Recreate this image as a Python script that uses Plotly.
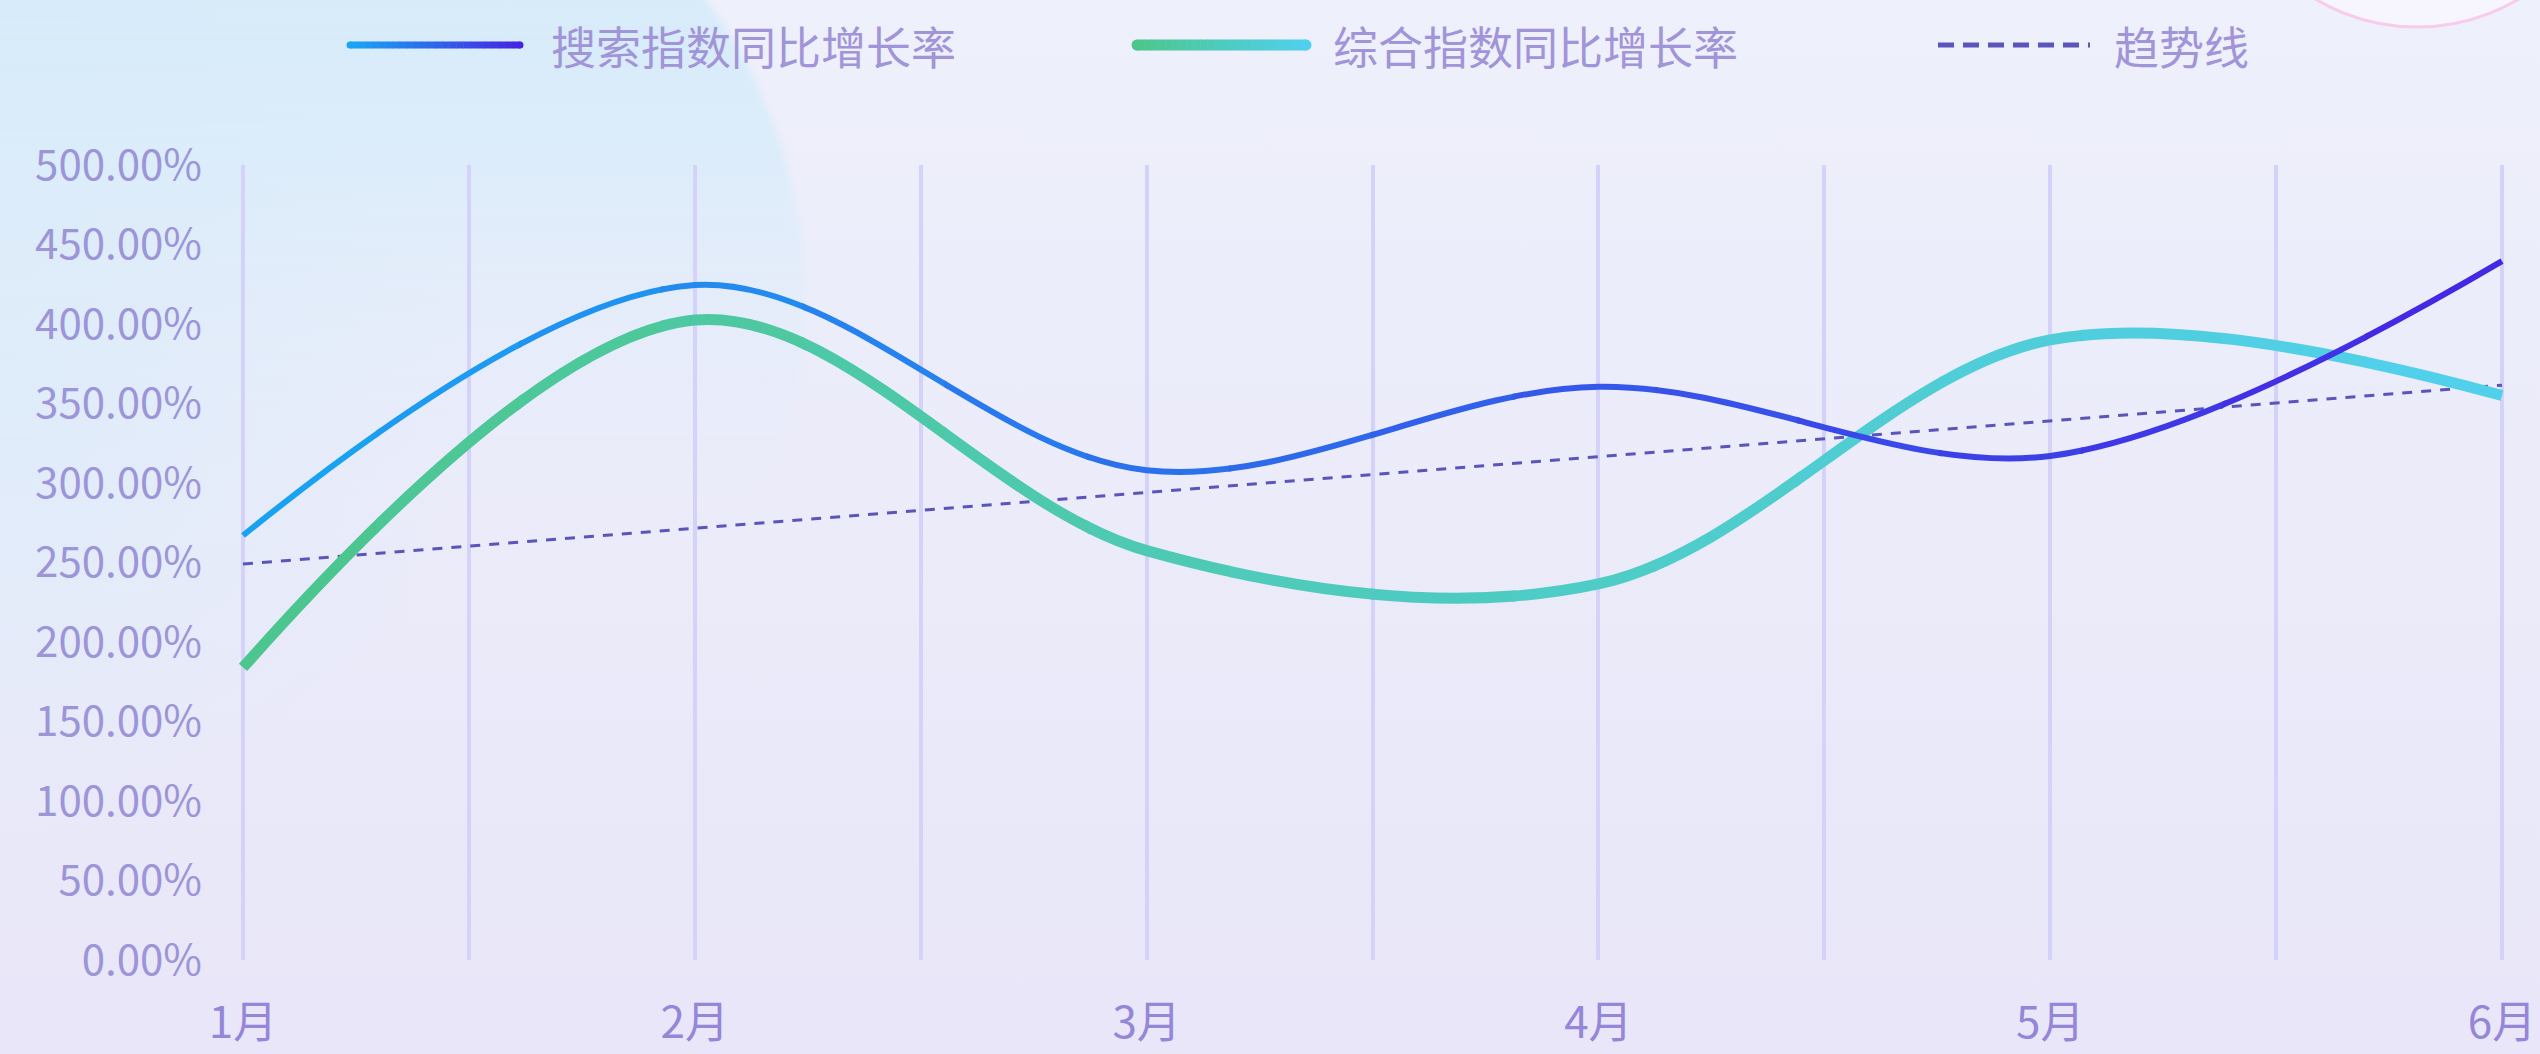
import base64
import plotly.graph_objects as go

# ---- data -------------------------------------------------------------
months = ["1月", "2月", "3月", "4月", "5月", "6月"]
search_growth = [267.0, 424.5, 308.0, 360.5, 317.0, 439.5]      # 搜索指数同比增长率 (%)
composite_growth = [184.0, 402.5, 257.5, 236.5, 390.0, 355.0]   # 综合指数同比增长率 (%)
trend_values = [249.0, 271.5, 294.0, 316.5, 339.0, 361.5]       # 趋势线 (%)
y_tick_values = [0, 50, 100, 150, 200, 250, 300, 350, 400, 450, 500]

series_names = ["搜索指数同比增长率", "综合指数同比增长率", "趋势线"]

# ---- geometry / style -------------------------------------------------
W, H = 2540, 1054
ML, MR, MT, MB = 236, 32, 165, 94
PW, PH = W - ML - MR, H - MT - MB
FIRST_PX, LAST_PX = 243, 2502          # pixel columns of the first / last month
month_pos = list(range(len(months)))
unit = (LAST_PX - FIRST_PX) / (len(months) - 1)
x_range = [-(FIRST_PX - ML) / unit, (len(months) - 1) + (ML + PW - LAST_PX) / unit]

FONT = "Noto Sans CJK SC, Noto Sans, sans-serif"
TEXT_COLOR = "#9d91d8"
GRID_COLOR = "#d4d2fa"

SEARCH_STOPS = ((25, 166, 242), (70, 36, 228))
COMPOSITE_STOPS = ((76, 198, 140), (80, 208, 238))
TREND_COLOR = "#5955bb"


def mix(stops, t):
    t = min(max(t, 0.0), 1.0)
    a, b = stops
    return "rgb({},{},{})".format(*[round(a[i] + (b[i] - a[i]) * t) for i in range(3)])


def px_x(px):
    return (px - ML) / PW


def px_y(py):
    return (MT + PH - py) / PH


fig = go.Figure()

# trend line on the main axes (underneath the gradient curves)
fig.add_trace(go.Scatter(
    x=month_pos, y=trend_values, mode="lines", name=series_names[2],
    line=dict(color=TREND_COLOR, width=3, dash="10px,9px"),
    hoverinfo="skip", showlegend=False,
))

# gradient curves: the plot width is cut into vertical strips, each strip is
# its own x-axis (same scale, narrower domain) so the spline gets clipped and
# coloured piece by piece.
N_STRIPS = 16
overlap = 1.5 / PW
span = x_range[1] - x_range[0]
for k in range(N_STRIPS):
    d0 = max(0.0, k / N_STRIPS - overlap)
    d1 = min(1.0, (k + 1) / N_STRIPS + overlap)
    axis_id = k + 2
    fig.update_layout(**{
        f"xaxis{axis_id}": dict(
            domain=[d0, d1],
            range=[x_range[0] + d0 * span, x_range[0] + d1 * span],
            visible=False, anchor="y", fixedrange=True, automargin=False,
        )
    })
    centre = x_range[0] + (k + 0.5) / N_STRIPS * span
    t = centre / (len(months) - 1)
    fig.add_trace(go.Scatter(
        x=month_pos, y=composite_growth, mode="lines", xaxis=f"x{axis_id}", yaxis="y",
        line=dict(color=mix(COMPOSITE_STOPS, t), width=11, shape="spline",
                  smoothing=1.0, simplify=False),
        name=series_names[1], hoverinfo="skip", showlegend=False,
    ))
    fig.add_trace(go.Scatter(
        x=month_pos, y=search_growth, mode="lines", xaxis=f"x{axis_id}", yaxis="y",
        line=dict(color=mix(SEARCH_STOPS, t), width=6, shape="spline",
                  smoothing=1.0, simplify=False),
        name=series_names[0], hoverinfo="skip", showlegend=False,
    ))

# ---- custom legend ----------------------------------------------------
shapes = []
annotations = []
legend_y = px_y(45)


def gradient_bar(x0, x1, stops, width, pieces=24):
    for i in range(pieces):
        a = x0 + (x1 - x0) * i / pieces
        b = x0 + (x1 - x0) * (i + 1) / pieces + 0.5
        shapes.append(dict(type="line", xref="paper", yref="paper",
                           x0=px_x(a), x1=px_x(b), y0=legend_y, y1=legend_y,
                           line=dict(color=mix(stops, (i + 0.5) / pieces), width=width)))
    r = width / 2
    for px, t in ((x0, 0.0), (x1, 1.0)):
        shapes.append(dict(type="circle", xref="paper", yref="paper",
                           xsizemode="pixel", ysizemode="pixel",
                           xanchor=px_x(px), yanchor=legend_y,
                           x0=-r, x1=r, y0=-r, y1=r,
                           fillcolor=mix(stops, t), line=dict(width=0)))


gradient_bar(350, 520, SEARCH_STOPS, 7)
gradient_bar(1137, 1306, COMPOSITE_STOPS, 11)
shapes.append(dict(type="line", xref="paper", yref="paper",
                   x0=px_x(1938), x1=px_x(2090), y0=legend_y, y1=legend_y,
                   line=dict(color=TREND_COLOR, width=5, dash="16px,9px")))

for name, left in zip(series_names, (549, 1331, 2112)):
    annotations.append(dict(text=name, xref="paper", yref="paper",
                            x=px_x(left), y=legend_y, xanchor="left", yanchor="middle",
                            showarrow=False,
                            font=dict(family=FONT, size=45, color="#a194d8")))

# ---- background artwork ----------------------------------------------
bg_svg = f"""<svg xmlns="http://www.w3.org/2000/svg" width="{W}" height="{H}" viewBox="0 0 {W} {H}">
<defs>
<linearGradient id="base" x1="0" y1="0" x2="0" y2="1">
<stop offset="0" stop-color="#eef0fb"/><stop offset="1" stop-color="#e8e6f8"/>
</linearGradient>
<radialGradient id="tint" cx="0" cy="0.35" r="0.45" gradientTransform="scale(0.42,1)">
<stop offset="0" stop-color="#dcecfa" stop-opacity="0.9"/>
<stop offset="1" stop-color="#dcecfa" stop-opacity="0"/>
</radialGradient>
<linearGradient id="blob" x1="0" y1="0" x2="0" y2="1">
<stop offset="0" stop-color="#d2eafa"/>
<stop offset="0.35" stop-color="#d9ecfa" stop-opacity="0.85"/>
<stop offset="0.72" stop-color="#e4ebf9" stop-opacity="0"/>
</linearGradient>
<filter id="soft" x="-10%" y="-10%" width="120%" height="120%"><feGaussianBlur stdDeviation="3"/></filter>
</defs>
<rect width="{W}" height="{H}" fill="url(#base)"/>
<rect width="{W}" height="{H}" fill="url(#tint)"/>
<circle cx="300" cy="300" r="505" fill="url(#blob)" filter="url(#soft)"/>
<circle cx="2417" cy="-172" r="199" fill="#f7f5fd" stroke="#f7cbe9" stroke-width="3"/>
</svg>"""
bg_uri = "data:image/svg+xml;base64," + base64.b64encode(bg_svg.encode("utf-8")).decode("ascii")

fig.update_layout(
    width=W, height=H, autosize=False,
    margin=dict(l=ML, r=MR, t=MT, b=MB, pad=0, autoexpand=False),
    paper_bgcolor="#eceefa", plot_bgcolor="rgba(0,0,0,0)",
    showlegend=False,
    font=dict(family=FONT, color=TEXT_COLOR),
    images=[dict(source=bg_uri, xref="paper", yref="paper",
                 x=-ML / PW, y=1 + MT / PH, sizex=W / PW, sizey=H / PH,
                 xanchor="left", yanchor="top", sizing="stretch", layer="below")],
    shapes=shapes,
    annotations=annotations,
    xaxis=dict(
        range=x_range, domain=[0, 1], fixedrange=True, automargin=False,
        tickvals=month_pos, ticktext=months,
        showgrid=True, gridcolor=GRID_COLOR, gridwidth=4,
        minor=dict(tickvals=[p + 0.5 for p in month_pos[:-1]],
                   showgrid=True, gridcolor=GRID_COLOR, gridwidth=4),
        zeroline=False, showline=False, ticks="",
        ticklabelstandoff=33,
        tickfont=dict(family=FONT, size=44, color="#9486d8"),
    ),
    yaxis=dict(
        range=[0, 500], domain=[0, 1], fixedrange=True, automargin=False,
        tickvals=y_tick_values, ticktext=[f"{v:.2f}%" for v in y_tick_values],
        showgrid=False, zeroline=False, showline=False, ticks="",
        ticklabelstandoff=33,
        tickfont=dict(family=FONT, size=42, color="#9c95d8"),
    ),
)

fig.write_html("out.html")
